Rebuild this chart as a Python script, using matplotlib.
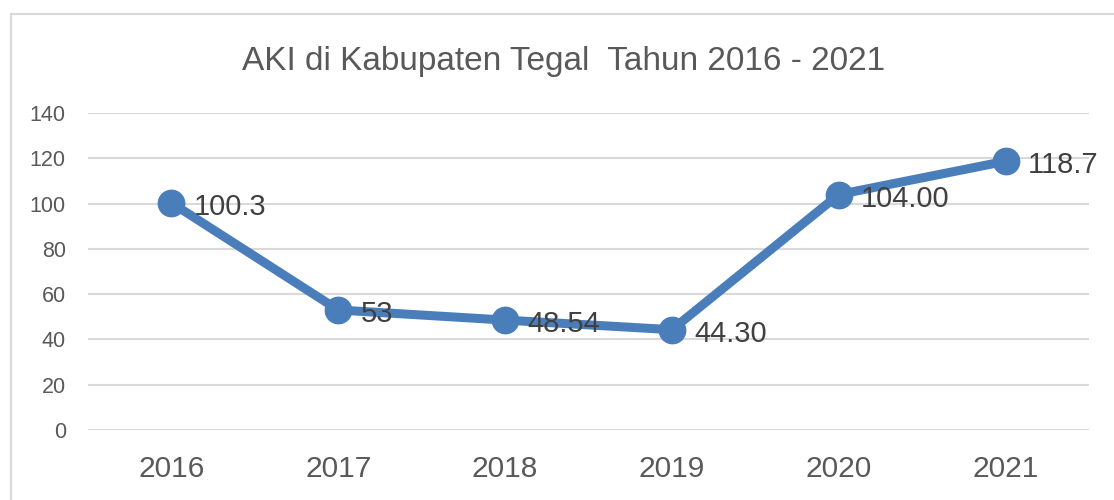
import matplotlib.pyplot as plt
from matplotlib.lines import Line2D

# data
years = ["2016", "2017", "2018", "2019", "2020", "2021"]
aki = [100.3, 53, 48.54, 44.30, 104.00, 118.7]
labels = ["100.3", "53", "48.54", "44.30", "104.00", "118.7"]
yticks = [0, 20, 40, 60, 80, 100, 120, 140]

plt.rcParams['font.family'] = ['Liberation Sans', 'DejaVu Sans']

fig = plt.figure(figsize=(11.14, 5.0), dpi=100)
ax = fig.add_axes([0.079, 0.14, 0.8986, 0.634])

x = list(range(len(years)))
ax.plot(x, aki, color="#4A7EBB", linewidth=6.5, marker="o", markersize=19,
        solid_capstyle="round", zorder=3)

for xi, yi, lab in zip(x, aki, labels):
    ax.annotate(lab, (xi, yi), xytext=(16, -3), textcoords="offset points",
                ha="left", va="center", fontsize=21, color="#404040", zorder=4)

ax.set_xlim(-0.5, len(years) - 0.5)
ax.set_ylim(0, 140)
ax.set_yticks(yticks)
ax.set_xticks(x)
ax.set_xticklabels(years)
ax.grid(axis="y", color="#D9D9D9", linewidth=1.5)
ax.set_axisbelow(True)
for s in ax.spines.values():
    s.set_visible(False)
ax.tick_params(axis="y", length=0, pad=16, labelsize=15.5, labelcolor="#595959")
ax.tick_params(axis="x", length=0, pad=18, labelsize=21.5, labelcolor="#595959")

fig.text(0.506, 0.877, "AKI di Kabupaten Tegal  Tahun 2016 - 2021", ha="center",
         va="center", fontsize=24, color="#595959")

# chart frame (cropped at right and bottom)
fig.add_artist(Line2D([0.0099, 0.0099], [0.0, 0.972], color="#D9D9D9", linewidth=1.5))
fig.add_artist(Line2D([0.0099, 1.0], [0.972, 0.972], color="#D9D9D9", linewidth=1.5))

fig.savefig("out.png", dpi=100)
